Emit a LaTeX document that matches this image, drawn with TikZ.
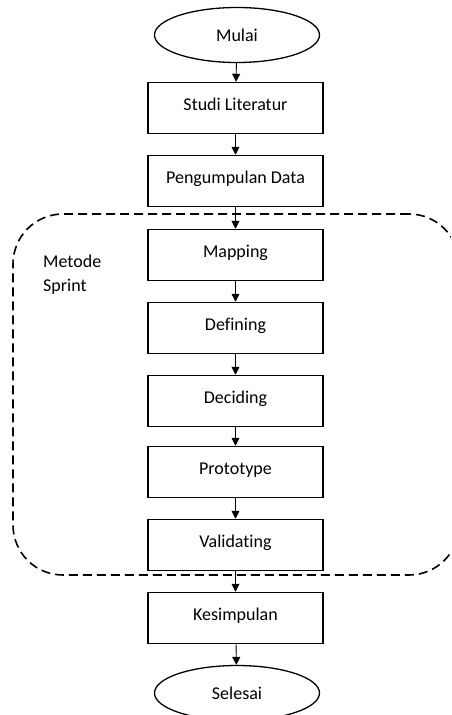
\documentclass[tikz,border=0pt]{standalone}
\usepackage{fontspec}
\setmainfont{Carlito}[Ligatures=NoCommon]
\usetikzlibrary{arrows.meta,shapes.geometric}
\begin{document}
\begin{tikzpicture}[x=1pt,y=-1pt,
  box/.style={draw, line width=1.5pt, minimum width=175pt, minimum height=51pt, inner sep=0pt, text height=10pt, text depth=6pt, font=\fontsize{18}{22}\selectfont},
  term/.style={draw, ellipse, line width=1.3pt, minimum width=165pt, minimum height=55pt, inner sep=0pt, font=\fontsize{18}{22}\selectfont},
  arr/.style={-{Triangle[length=8pt,width=8pt]}, line width=0.9pt},
  group/.style={draw, line width=1.6pt, dash pattern=on 9pt off 5pt, rounded corners=50pt, minimum width=446pt, minimum height=361pt, inner sep=0pt},
  lbl/.style={anchor=north west, inner sep=0pt, align=left, font=\fontsize{18}{24}\selectfont}]
\useasboundingbox (0,0) rectangle (451,715);
\clip (0,0) rectangle (451,715);
\node[group] (sprint) at (236,394.5) {};
\node[lbl] (metode) at (43,255) {Metode\\Sprint};
\node[term] (mulai) at (237,35) {Mulai};
\node[box] (studi) at (235.5,108) {Studi Literatur};
\node[box] (data) at (235.5,181) {Pengumpulan Data};
\node[box] (map) at (235.5,255) {Mapping};
\node[box] (def) at (235.5,328) {Defining};
\node[box] (dec) at (235.5,401) {Deciding};
\node[box] (proto) at (235.5,472) {Prototype};
\node[box] (val) at (235.5,545) {Validating};
\node[box] (kes) at (235.5,618) {Kesimpulan};
\node[term] (selesai) at (237,693) {Selesai};
\draw[arr] (mulai) -- (studi);
\draw[arr] (studi) -- (data);
\draw[arr] (data) -- (map);
\draw[arr] (map) -- (def);
\draw[arr] (def) -- (dec);
\draw[arr] (dec) -- (proto);
\draw[arr] (proto) -- (val);
\draw[arr] (val) -- (kes);
\draw[arr] (kes) -- (selesai);
\end{tikzpicture}
\end{document}
